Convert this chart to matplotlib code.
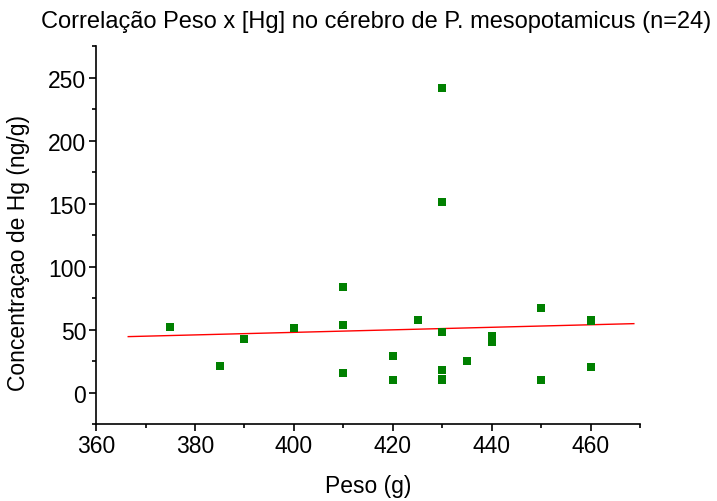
import matplotlib
matplotlib.use("Agg")
import matplotlib.pyplot as plt
from matplotlib.ticker import MultipleLocator

plt.rcParams['font.family'] = ['Liberation Sans', 'DejaVu Sans']

# Peso (g) and [Hg] (ng/g)
peso = [375, 385, 390, 400, 410, 410, 410, 420, 420, 425, 430, 430,
        430, 430, 430, 430, 435, 440, 440, 450, 450, 460, 460, 460]
hg = [52, 21, 43, 51, 84, 54, 16, 29, 10, 58, 242, 151,
      48, 18, 10, 11, 25, 45, 40, 67, 10, 58, 57, 20]

# linear fit endpoints as drawn
fit_x = [366.5, 468.7]
fit_y = [44.5, 54.8]

fig = plt.figure(figsize=(7.17, 5.02), dpi=100)
ax = fig.add_axes([0.134, 0.153, 0.759, 0.753])

ax.plot(fit_x, fit_y, color='red', lw=1)
ax.plot(peso, hg, 's', color='#008000', markersize=5.5, markeredgewidth=0)

ax.set_xlim(360, 470)
ax.set_ylim(-25, 275)
ax.xaxis.set_major_locator(MultipleLocator(20))
ax.xaxis.set_minor_locator(MultipleLocator(10))
ax.yaxis.set_major_locator(MultipleLocator(50))
ax.yaxis.set_minor_locator(MultipleLocator(25))

for s in ['top', 'right']:
    ax.spines[s].set_visible(False)
for s in ['left', 'bottom']:
    ax.spines[s].set_linewidth(1.2)

ax.tick_params(which='major', direction='out', length=5, width=1.2,
               labelsize=16.5, pad=2)
ax.tick_params(which='minor', direction='out', length=3, width=1.2)

ax.set_xlabel('Peso (g)', fontsize=16.5, labelpad=12)
ax.set_ylabel('Concentraçao de Hg (ng/g)', fontsize=16.5)
ax.yaxis.set_label_coords(-0.122, 0.455)
fig.text(0.524, 0.956, 'Correlação Peso x [Hg] no cérebro de P. mesopotamicus (n=24)',
         ha='center', va='center', fontsize=17)

fig.savefig('out.png', dpi=100)
